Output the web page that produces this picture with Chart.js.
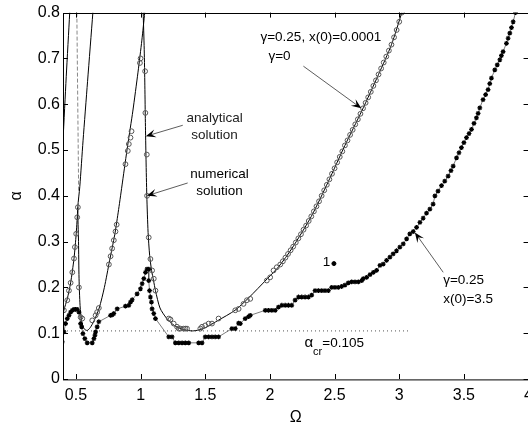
<!DOCTYPE html>
<html>
<head>
<meta charset="utf-8">
<script src="https://cdn.jsdelivr.net/npm/chart.js@4.4.0/dist/chart.umd.min.js"></script>
<style>
html, body { margin: 0; padding: 0; background: #fff; overflow: hidden; }
#wrap { width: 540px; height: 428px; }
</style>
</head>
<body>
<div id="wrap"><canvas id="grafico" width="540" height="428"></canvas></div>
<script>
var xTicks = [0.5, 1, 1.5, 2, 2.5, 3, 3.5, 4]
var yTicks = [0, 0.1, 0.2, 0.3, 0.4, 0.5, 0.6, 0.7, 0.8]

// analytical solution (gamma = 0), one array pair per branch
var anaOmegaA = [0.40, 0.425, 0.452]
var anaAlphaA = [0.52, 0.66, 0.80]
var anaOmegaB = [0.394, 0.407, 0.433, 0.459, 0.485, 0.502, 0.515]
var anaAlphaB = [0.122, 0.15, 0.175, 0.21, 0.263, 0.317, 0.375]
var anaOmegaC = [0.631, 0.59, 0.555, 0.53, 0.515, 0.52, 0.524, 0.532, 0.545, 0.565, 0.587, 0.61, 0.64, 0.68, 0.72, 0.76, 0.80, 0.83, 0.86, 0.90, 0.94, 0.98, 1.01, 1.032]
var anaAlphaC = [0.80, 0.65, 0.52, 0.42, 0.375, 0.30, 0.22, 0.16, 0.125, 0.109, 0.106, 0.112, 0.127, 0.155, 0.20, 0.258, 0.315, 0.37, 0.43, 0.51, 0.585, 0.67, 0.74, 0.80]
var anaOmegaD = [1.02, 1.028, 1.033, 1.037, 1.042, 1.048, 1.058, 1.07, 1.085, 1.10, 1.115, 1.15, 1.20, 1.26, 1.33, 1.40, 1.45, 1.50, 1.60, 1.73, 1.835, 1.98, 2.07, 2.17, 2.32, 2.45, 2.58, 2.71, 2.84, 2.94, 3.02]
var anaAlphaD = [0.80, 0.72, 0.64, 0.56, 0.48, 0.40, 0.32, 0.27, 0.237, 0.215, 0.193, 0.155, 0.133, 0.117, 0.108, 0.105, 0.107, 0.112, 0.128, 0.15, 0.177, 0.219, 0.246, 0.285, 0.355, 0.43, 0.51, 0.585, 0.665, 0.73, 0.80]
var anaOmegaE = [0.507, 0.521]
var anaAlphaE = [0.80, 0.41]

// numerical, gamma = 0.25, x(0) = 0.0001 (open circles)
var numOmega = [0.394, 0.407, 0.433, 0.446, 0.459, 0.472, 0.485, 0.492, 0.502, 0.51, 0.515, 0.523, 0.536, 0.549,
	0.626, 0.652, 0.664, 0.677, 0.755, 0.768, 0.78, 0.793, 0.806, 0.815, 0.883, 0.901, 0.909, 0.922, 0.93,
	0.995, 1.0, 1.035, 1.037, 1.048, 1.05, 1.063, 1.076, 1.089, 1.102, 1.115,
	1.218, 1.231, 1.256, 1.282, 1.295, 1.308, 1.333, 1.346, 1.359, 1.462, 1.475, 1.5, 1.526, 1.552, 1.603,
	1.732, 1.758, 1.796, 1.822, 1.848, 1.976, 2.002, 2.028, 2.053,
	2.08, 2.10, 2.12, 2.14, 2.16, 2.18, 2.20, 2.22, 2.24, 2.26, 2.28, 2.30, 2.32, 2.34, 2.36, 2.38, 2.40,
	2.42, 2.44, 2.46, 2.48, 2.50, 2.52, 2.54, 2.56, 2.58, 2.60, 2.62, 2.64, 2.66, 2.68, 2.70, 2.72, 2.74,
	2.76, 2.78, 2.80, 2.82, 2.84, 2.86, 2.88, 2.90, 2.92, 2.94, 2.96, 2.98, 3.00, 3.02]
var numAlpha = [0.122, 0.15, 0.172, 0.193, 0.21, 0.233, 0.263, 0.288, 0.317, 0.353, 0.375, 0.20, 0.135, 0.132,
	0.128, 0.139, 0.146, 0.155, 0.25, 0.268, 0.285, 0.303, 0.322, 0.337, 0.469, 0.498, 0.513, 0.527, 0.541,
	0.69, 0.70, 0.672, 0.581, 0.49, 0.40, 0.309, 0.262, 0.237, 0.219, 0.193,
	0.132, 0.13, 0.121, 0.114, 0.11, 0.11, 0.11, 0.11, 0.11, 0.11, 0.114, 0.117, 0.121, 0.121, 0.132,
	0.15, 0.153, 0.164, 0.172, 0.175, 0.215, 0.222, 0.237, 0.244,
	0.25, 0.257, 0.265, 0.273, 0.281, 0.289, 0.298, 0.307, 0.316, 0.326, 0.335, 0.345, 0.355, 0.366, 0.377, 0.388, 0.40,
	0.412, 0.424, 0.436, 0.448, 0.46, 0.473, 0.485, 0.497, 0.51, 0.521, 0.533, 0.544, 0.556, 0.567, 0.579, 0.591, 0.603,
	0.615, 0.627, 0.64, 0.652, 0.665, 0.678, 0.691, 0.704, 0.717, 0.73, 0.746, 0.762, 0.78, 0.80]

// numerical, gamma = 0.25, x(0) = 3.5 (black points)
var num35Omega = [0.394, 0.407, 0.42, 0.433, 0.446, 0.459, 0.472, 0.485, 0.497, 0.51, 0.523, 0.536, 0.544, 0.554, 0.569, 0.587,
	0.626, 0.639, 0.647, 0.652, 0.664, 0.677, 0.768, 0.78, 0.793, 0.819, 0.883, 0.909, 0.922, 0.935, 0.973, 0.999,
	1.012, 1.025, 1.038, 1.05, 1.063, 1.063, 1.069, 1.076, 1.084, 1.089, 1.102, 1.115,
	1.218, 1.243, 1.269, 1.295, 1.321, 1.346, 1.372, 1.449, 1.475, 1.5, 1.526, 1.552, 1.577, 1.603,
	1.706, 1.732, 1.758, 1.771, 1.809, 1.835, 1.848, 1.964, 1.989, 2.015, 2.041, 2.066, 2.092, 2.118, 2.143, 2.169,
	2.195, 2.221, 2.246, 2.272, 2.298, 2.323, 2.349, 2.375, 2.401, 2.426, 2.452, 2.478, 2.503, 2.529, 2.555, 2.58,
	2.606, 2.632, 2.658, 2.684, 2.71, 2.722, 2.748, 2.774, 2.8, 2.825, 2.851, 2.876, 2.902, 2.928, 2.953, 2.979,
	3.005, 3.031, 3.057, 3.082, 3.108, 3.134, 3.16, 3.185, 3.211, 3.237, 3.262, 3.276, 3.30, 3.327, 3.352, 3.378,
	3.40, 3.417, 3.443, 3.462, 3.481, 3.50, 3.52, 3.54, 3.559, 3.578, 3.597, 3.61, 3.623, 3.648, 3.668, 3.687,
	3.70, 3.713, 3.739, 3.758, 3.778, 3.79, 3.803, 3.829, 3.842, 3.855, 3.868, 3.881, 3.899]
var num35Alpha = [0.081, 0.103, 0.121, 0.132, 0.139, 0.146, 0.15, 0.152, 0.152, 0.152, 0.146, 0.121, 0.114, 0.099, 0.088, 0.079,
	0.079, 0.088, 0.096, 0.103, 0.114, 0.125, 0.139, 0.14, 0.143, 0.153, 0.159, 0.161, 0.168, 0.173, 0.186, 0.197,
	0.208, 0.219, 0.233, 0.24, 0.24, 0.215, 0.193, 0.179, 0.168, 0.153, 0.143, 0.132,
	0.092, 0.092, 0.079, 0.079, 0.079, 0.079, 0.079, 0.079, 0.079, 0.092, 0.092, 0.092, 0.092, 0.092,
	0.11, 0.11, 0.122, 0.121, 0.132, 0.136, 0.139, 0.15, 0.15, 0.15, 0.15, 0.157, 0.161, 0.161, 0.161, 0.161,
	0.172, 0.179, 0.179, 0.179, 0.179, 0.183, 0.193, 0.193, 0.193, 0.193, 0.193, 0.2, 0.2, 0.2, 0.202, 0.205,
	0.21, 0.212, 0.212, 0.212, 0.215, 0.219, 0.222, 0.228, 0.233, 0.237, 0.248, 0.251, 0.259, 0.266, 0.273, 0.28,
	0.288, 0.295, 0.306, 0.317, 0.322, 0.331, 0.342, 0.351, 0.362, 0.371, 0.382, 0.40, 0.41, 0.422, 0.432, 0.443,
	0.455, 0.465, 0.483, 0.494, 0.505, 0.516, 0.527, 0.536, 0.545, 0.558, 0.57, 0.58, 0.592, 0.61, 0.621, 0.632,
	0.645, 0.657, 0.675, 0.686, 0.697, 0.706, 0.715, 0.733, 0.744, 0.755, 0.767, 0.78, 0.80]

var alphaCr = 0.105
var crOmega = [0.4, 3.07]
var ponto1Omega = [2.495]
var ponto1Alpha = [0.252]

function pontos(xs, ys) {
	return xs.map(function (x, i) { return { x: x, y: ys[i] } })
}

function linhaAnalitica(xs, ys) {
	return {
		data: pontos(xs, ys),
		showLine: true,
		borderColor: '#000',
		borderWidth: 1,
		pointRadius: 0,
		tension: 0.25,
	}
}

// annotations in data units: [text lines], anchor, arrow from -> to
var anotacoes = [
	{ linhas: ['analytical', 'solution'], x: 1.572, y: [0.570, 0.533], align: 'center', de: [1.326, 0.554], para: [1.040, 0.530] },
	{ linhas: ['numerical', 'solution'], x: 1.611, y: [0.448, 0.409], align: 'center', de: [1.364, 0.428], para: [1.048, 0.400] },
	{ linhas: ['\u03b3=0.25, x(0)=0.0001'], x: 1.927, y: [0.746], align: 'left', de: null },
	{ linhas: ['\u03b3=0'], x: 1.989, y: [0.704], align: 'left', de: [2.259, 0.683], para: [2.707, 0.591] },
	{ linhas: ['\u03b3=0.25', 'x(0)=3.5'], x: 3.340, y: [0.215, 0.174], align: 'left', de: [3.340, 0.233], para: [3.121, 0.320] },
	{ linhas: ['1'], x: 2.437, y: [0.254], align: 'center', de: null },
]

function seta(ctx, x1, y1, x2, y2) {
	var ang = Math.atan2(y2 - y1, x2 - x1)
	var len = 10, w = 4
	ctx.strokeStyle = '#333'
	ctx.lineWidth = 0.8
	ctx.beginPath()
	ctx.moveTo(x1, y1)
	ctx.lineTo(x2 - Math.cos(ang) * len * 0.6, y2 - Math.sin(ang) * len * 0.6)
	ctx.stroke()
	ctx.fillStyle = '#000'
	ctx.beginPath()
	ctx.moveTo(x2, y2)
	ctx.lineTo(x2 - Math.cos(ang) * len - Math.sin(ang) * w, y2 - Math.sin(ang) * len + Math.cos(ang) * w)
	ctx.lineTo(x2 - Math.cos(ang) * len * 0.6, y2 - Math.sin(ang) * len * 0.6)
	ctx.lineTo(x2 - Math.cos(ang) * len + Math.sin(ang) * w, y2 - Math.sin(ang) * len - Math.cos(ang) * w)
	ctx.closePath()
	ctx.fill()
}

var moldura = {
	id: 'moldura',
	afterDraw: function (chart) {
		var ctx = chart.ctx
		var a = chart.chartArea
		var sx = chart.scales.x, sy = chart.scales.y
		ctx.save()
		ctx.strokeStyle = '#000'
		ctx.lineWidth = 1
		ctx.strokeRect(Math.round(a.left) + 0.5, Math.round(a.top) + 0.5, a.right - a.left, a.bottom - a.top)
		ctx.beginPath()
		xTicks.forEach(function (v) {
			var p = Math.round(sx.getPixelForValue(v)) + 0.5
			ctx.moveTo(p, a.bottom); ctx.lineTo(p, a.bottom - 5)
			ctx.moveTo(p, a.top); ctx.lineTo(p, a.top + 5)
		})
		yTicks.forEach(function (v) {
			var p = Math.round(sy.getPixelForValue(v)) + 0.5
			ctx.moveTo(a.left, p); ctx.lineTo(a.left + 5, p)
			ctx.moveTo(a.right, p); ctx.lineTo(a.right - 5, p)
		})
		ctx.stroke()

		ctx.fillStyle = '#222'
		ctx.textBaseline = 'middle'
		ctx.font = '13.5px "Liberation Sans", Arial, sans-serif'
		anotacoes.forEach(function (an) {
			ctx.textAlign = an.align
			an.linhas.forEach(function (t, i) {
				ctx.fillText(t, sx.getPixelForValue(an.x), sy.getPixelForValue(an.y[i]))
			})
			if (an.de) {
				seta(ctx, sx.getPixelForValue(an.de[0]), sy.getPixelForValue(an.de[1]),
					sx.getPixelForValue(an.para[0]), sy.getPixelForValue(an.para[1]))
			}
		})

		// alpha_cr label
		var lx = sx.getPixelForValue(2.267), ly = sy.getPixelForValue(0.078)
		ctx.textAlign = 'left'
		ctx.font = '15px "Liberation Sans", Arial, sans-serif'
		ctx.fillText('\u03b1', lx, ly)
		var w1 = ctx.measureText('\u03b1').width
		ctx.font = '11px "Liberation Sans", Arial, sans-serif'
		ctx.fillText('cr', lx + w1, ly + 9)
		var w2 = ctx.measureText('cr').width
		ctx.font = '13.5px "Liberation Sans", Arial, sans-serif'
		ctx.fillText('=0.105', lx + w1 + w2, ly)
		ctx.restore()
	}
}

var configChart = {
	type: 'scatter',
	data: {
		datasets: [
			{
				data: pontos(num35Omega, num35Alpha),
				showLine: true,
				borderColor: '#444',
				borderWidth: 0.7,
				pointStyle: 'star',
				pointRadius: 2.4,
				pointBorderColor: '#000',
				pointBorderWidth: 1.2,
				pointBackgroundColor: '#000',
			},
			{
				data: pontos(ponto1Omega, ponto1Alpha),
				pointStyle: 'circle',
				pointRadius: 2,
				pointBackgroundColor: '#000',
				pointBorderColor: '#000',
			},
			{
				data: pontos(numOmega, numAlpha),
				showLine: false,
				pointStyle: 'circle',
				pointRadius: 2.4,
				pointBorderColor: '#555',
				pointBorderWidth: 1,
				pointBackgroundColor: 'rgba(255,255,255,0)',
			},
			linhaAnalitica(anaOmegaA, anaAlphaA),
			linhaAnalitica(anaOmegaB, anaAlphaB),
			linhaAnalitica(anaOmegaC, anaAlphaC),
			linhaAnalitica(anaOmegaD, anaAlphaD),
			{
				data: pontos(anaOmegaE, anaAlphaE),
				showLine: true,
				borderColor: '#888',
				borderWidth: 1,
				borderDash: [4, 2],
				pointRadius: 0,
			},
			{
				data: pontos(crOmega, [alphaCr, alphaCr]),
				showLine: true,
				borderColor: '#555',
				borderWidth: 1,
				borderDash: [1, 3],
				pointRadius: 0,
			},
		]
	},
	options: {
		responsive: false,
		animation: false,
		events: [],
		layout: { padding: { left: 0, right: 10, top: 11, bottom: 0 } },
		plugins: {
			legend: { display: false },
			tooltip: { enabled: false },
			title: { display: false },
		},
		scales: {
			x: {
				type: 'linear',
				min: 0.4,
				max: 4,
				afterBuildTicks: function (scale) { scale.ticks = xTicks.map(function (v) { return { value: v } }) },
				afterFit: function (scale) { scale.height = 49 },
				grid: { display: false, drawTicks: false },
				border: { display: false },
				ticks: {
					padding: 7,
					maxRotation: 0,
					color: '#000',
					font: { family: '"Liberation Sans", Arial, sans-serif', size: 16 },
					callback: function (v) { return String(v) },
				},
				title: {
					display: true,
					text: '\u03a9',
					color: '#000',
					padding: { top: 0, bottom: 1 },
					font: { family: '"Liberation Sans", Arial, sans-serif', size: 16 },
				},
			},
			y: {
				type: 'linear',
				min: 0,
				max: 0.8,
				afterBuildTicks: function (scale) { scale.ticks = yTicks.map(function (v) { return { value: v } }) },
				afterFit: function (scale) { scale.width = 63 },
				grid: { display: false, drawTicks: false },
				border: { display: false },
				ticks: {
					padding: 3,
					color: '#000',
					font: { family: '"Liberation Sans", Arial, sans-serif', size: 16 },
					callback: function (v) { return String(v) },
				},
				title: {
					display: true,
					text: '\u03b1',
					color: '#000',
					padding: { top: 7, bottom: 0 },
					font: { family: '"Liberation Sans", Arial, sans-serif', size: 16 },
				},
			},
		},
	},
	plugins: [moldura],
}

var ctx = document.getElementById('grafico').getContext('2d')
window.grafico = new Chart(ctx, configChart)
</script>
</body>
</html>
